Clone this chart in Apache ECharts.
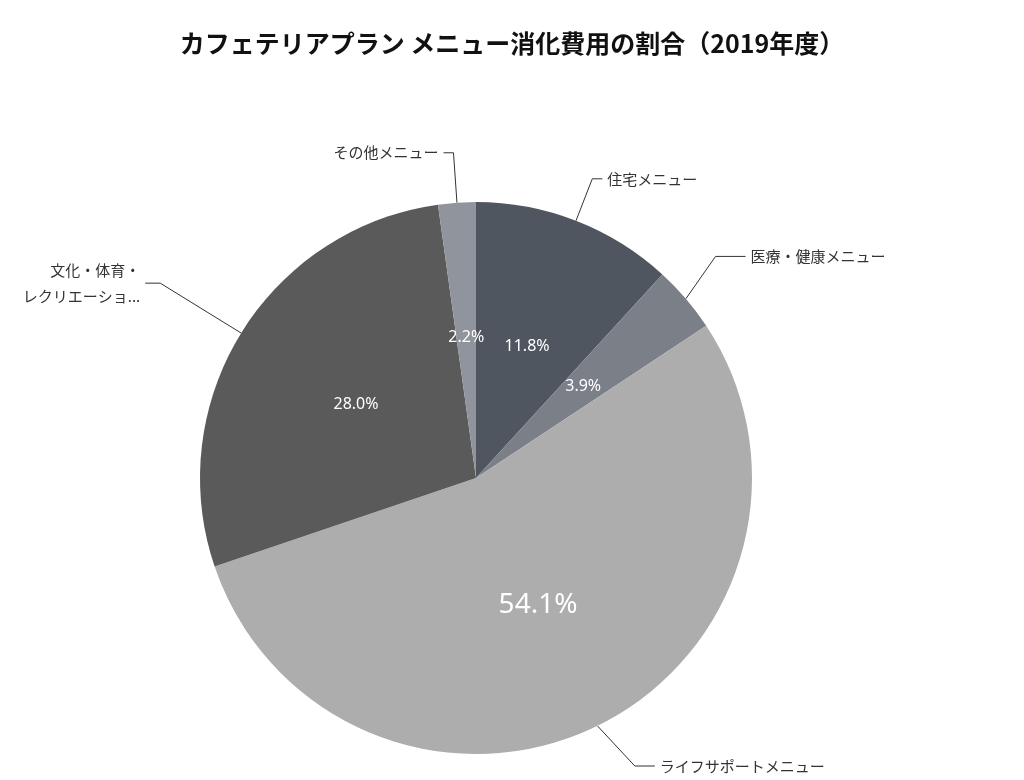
<!DOCTYPE html>
<html><head><meta charset="utf-8">
<script src="https://cdn.jsdelivr.net/npm/echarts@6/dist/echarts.min.js"></script>
<style>html,body{margin:0;background:#fff}#c{width:1024px;height:780px}</style>
</head><body><div id="c"></div>
<script>
const categories = ['住宅メニュー','医療・健康メニュー','ライフサポートメニュー','文化・体育・\nレクリエーションメニュー','その他メニュー'];
const values = [11.8, 3.9, 54.1, 28.0, 2.2];
const colors = ['#50565f','#7a7f88','#adadad','#5a5a5a','#90949c'];
const lineLen = [[45,10],[60,30],[85,20],[95,15],[50,10]];
const font = '"Noto Sans CJK JP","Noto Sans",sans-serif';
const data = categories.map((n,i)=>({name:n,value:values[i],itemStyle:{color:colors[i]},
  labelLine:{length:lineLen[i][0],length2:lineLen[i][1]},
  label:i===3?{align:'left'}:{}}));
const chart = echarts.init(document.getElementById('c'));
chart.setOption({
  animation:false,
  title:{text:'カフェテリアプラン メニュー消化費用の割合（2019年度）',left:'center',top:26,
    textStyle:{fontFamily:font,fontSize:25,fontWeight:'bold',color:'#111'}},
  series:[
    {type:'pie',center:[476,478],radius:276,startAngle:90,clockwise:true,silent:true,
     data:data,
     label:{show:true,position:'outside',formatter:'{b}',fontFamily:font,fontSize:15,color:'#333',lineHeight:26},
     labelLine:{show:true,lineStyle:{color:'#333',width:1}}
    },
    {type:'pie',center:[476,478],radius:276,startAngle:90,clockwise:true,silent:true,
     data:data.map((d,i)=>({name:d.name,value:d.value,itemStyle:{color:'rgba(0,0,0,0)'},
       label:{fontSize:i===2?28:16}})),
     label:{show:true,position:'inside',formatter:p=>p.value.toFixed(1)+'%',fontFamily:'"Noto Sans",sans-serif',color:'#fff'},
     labelLine:{show:false}
    }
  ]
});
</script></body></html>
